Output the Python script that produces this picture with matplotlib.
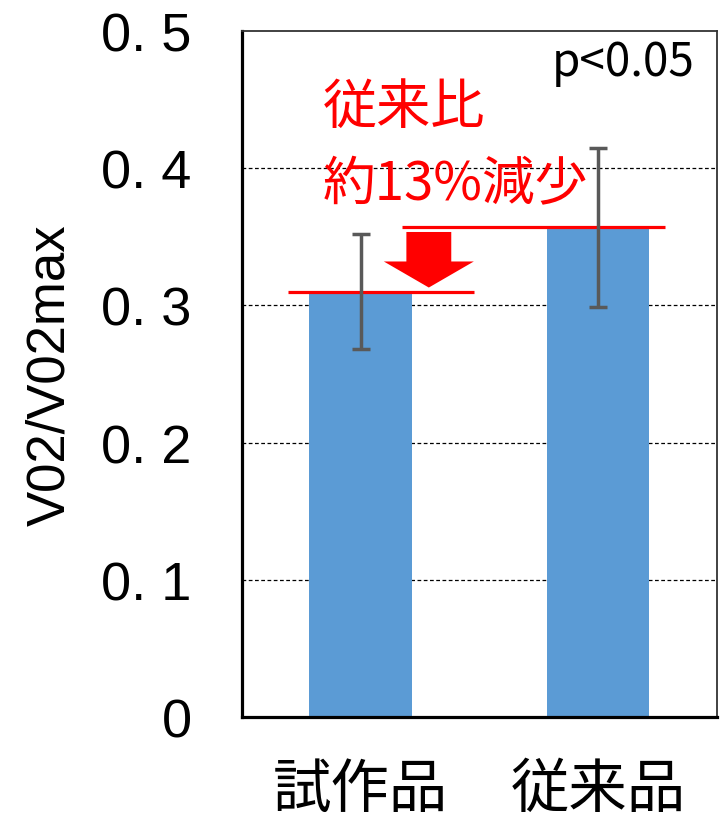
import matplotlib
matplotlib.use('Agg')
import matplotlib.pyplot as plt
from matplotlib.patches import FancyArrow
import numpy as np

# 試作品と従来品の酸素摂取率 (平均 ± SD)
categories = ['試作品', '従来品']
means = [0.31, 0.357]
errors = [0.042, 0.058]
y_ticks = [0, 0.1, 0.2, 0.3, 0.4, 0.5]
y_tick_labels = ['0', '0. 1', '0. 2', '0. 3', '0. 4', '0. 5']
y_label = 'V02/V02max'
p_text = 'p<0.05'
note_lines = ['従来比', '約13%減少']

jp = ['Noto Sans CJK JP', 'DejaVu Sans']
latin = ['Liberation Sans', 'DejaVu Sans']
red = '#FF0000'
bar_color = '#5B9BD5'
err_color = '#595959'

fig = plt.figure(figsize=(7.24, 8.2), dpi=100)
ax = fig.add_axes([0.334, 0.1244, 0.656, 0.8366])

x = np.arange(len(categories))
ax.bar(x, means, width=0.43, color=bar_color, zorder=2)
ax.errorbar(x, means, yerr=errors, fmt='none', ecolor=err_color,
            elinewidth=2.5, capsize=6.5, capthick=2.5, zorder=4)

ax.set_xlim(-0.5, 1.5)
ax.set_ylim(0, 0.5)

# 目盛り・グリッド
ax.set_yticks(y_ticks)
ax.set_yticklabels(y_tick_labels, family=latin, fontsize=39)
ax.tick_params(axis='y', length=0, pad=36)
ax.set_xticks(x)
ax.set_xticklabels(categories, family=jp, fontsize=42)
ax.tick_params(axis='x', length=0, pad=30)
for v in y_ticks[1:-1]:
    ax.axhline(v, color='black', linewidth=0.9, linestyle=(0, (3, 2)), zorder=1)

ax.set_ylabel(y_label, family=latin, fontsize=38)
ax.yaxis.label.set_verticalalignment('center')
ax.yaxis.set_label_coords(-0.404, 0.5)

for side in ['left', 'bottom']:
    ax.spines[side].set_linewidth(2.3)
    ax.spines[side].set_color('black')
for side in ['top', 'right']:
    ax.spines[side].set_linewidth(1.3)
    ax.spines[side].set_color('#333333')

# 基準線と減少を示す矢印
ax.hlines(means[0], -0.307, 0.479, color=red, linewidth=2.3, zorder=3)
ax.hlines(means[1], 0.176, 1.28, color=red, linewidth=2.3, zorder=3)
top = means[1] - 0.0035
tip = means[0] + 0.003
ax.add_patch(FancyArrow(0.2875, top, 0, tip - top, width=0.189,
                        head_width=0.379, head_length=0.019,
                        length_includes_head=True, color=red, lw=0, zorder=3))

ax.text(-0.16, 0.4446, note_lines[0], color=red, family=jp, fontsize=39,
        ha='left', va='center')
ax.text(-0.16, 0.3885, note_lines[1], color=red, family=jp, fontsize=38,
        ha='left', va='center')
ax.text(0.954, 0.955, p_text, transform=ax.transAxes, family=jp,
        fontsize=33, ha='right', va='center')

fig.savefig('out.png', dpi=100)
